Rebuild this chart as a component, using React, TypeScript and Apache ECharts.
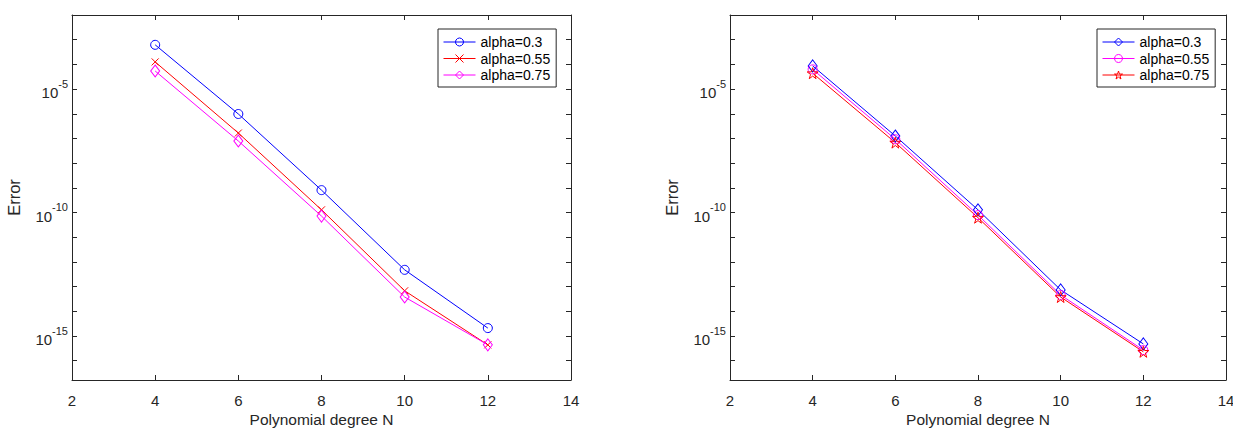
import React, { useEffect, useRef } from "react";
import * as echarts from "echarts";

const degrees = [4, 6, 8, 10, 12];
const legendNames = ["alpha=0.3", "alpha=0.55", "alpha=0.75"];

// left panel
const leftA03 = [6.2e-4, 9.8e-7, 8.1e-10, 4.8e-13, 2.1e-15];
const leftA055 = [1.26e-4, 1.66e-7, 1.29e-10, 6.8e-14, 4.4e-16];
const leftA075 = [5.4e-5, 7.9e-8, 7.2e-11, 3.8e-14, 4.4e-16];

// right panel
const rightA03 = [8.7e-5, 1.26e-7, 1.29e-10, 7.4e-14, 4.8e-16];
const rightA055 = [6.3e-5, 9.3e-8, 7.9e-11, 4.6e-14, 2.7e-16];
const rightA075 = [4.4e-5, 6.8e-8, 6.2e-11, 3.8e-14, 2.3e-16];

// axes
const xMin = 2;
const xMax = 14;
const xStep = 2;
const yMax = 1e-2;
const yMin = 1.66e-17;
const yTickValues = [1e-16, 1e-15, 1e-14, 1e-13, 1e-12, 1e-11, 1e-10, 1e-9, 1e-8, 1e-7, 1e-6, 1e-5, 1e-4, 1e-3];
const yLabelValues = [1e-15, 1e-10, 1e-5];

const FONT = "'Liberation Sans', Arial, Helvetica, sans-serif";
const AX = "#262626";
const BLUE = "#0000ff";
const RED = "#ff0000";
const MAGENTA = "#ff00ff";

const CROSS = "path://M0,0L10,10M10,0L0,10";
const STAR =
  "path://M50,0L61.23,34.55L97.55,34.55L68.17,55.9L79.39,90.45L50,69.1L20.61,90.45L31.83,55.9L2.45,34.55L38.77,34.55Z";

function mkSeries(name: string, vals: number[], color: string, symbol: string, size: any) {
  return {
    name,
    type: "line",
    xAxisIndex: 0,
    yAxisIndex: 0,
    data: degrees.map((d, i) => [d, vals[i]]),
    symbol,
    symbolSize: size,
    showSymbol: true,
    color,
    lineStyle: { color, width: 1 },
    itemStyle: { color: "rgba(255,255,255,0)", borderColor: color, borderWidth: 1 },
    emphasis: { disabled: true },
  };
}

function yLabel(v: number) {
  const e = Math.round(Math.log10(v));
  return "{b|10}{s|" + e + "}";
}

function makeOption(grid: any, legendPos: any, series: any[]) {
  const xCommon = {
    type: "value",
    min: xMin,
    max: xMax,
    interval: xStep,
    axisLine: { show: true, onZero: false, lineStyle: { color: AX, width: 1 } },
    axisTick: { show: true, inside: true, length: 5, lineStyle: { color: AX } },
    splitLine: { show: false },
  };
  const yCommon = {
    type: "log",
    logBase: 10,
    min: yMin,
    max: yMax,
    axisLine: { show: true, onZero: false, lineStyle: { color: AX, width: 1 } },
    axisTick: { show: true, inside: true, length: 5, customValues: yTickValues, lineStyle: { color: AX } },
    splitLine: { show: false },
  };
  return {
    animation: false,
    backgroundColor: "#fff",
    textStyle: { fontFamily: FONT },
    grid: { ...grid, show: false, containLabel: false, outerBoundsMode: "none" },
    legend: {
      orient: "vertical",
      ...legendPos,
      itemWidth: 32,
      itemHeight: 10,
      itemGap: 2.5,
      padding: [6, 6, 5, 5],
      borderColor: AX,
      borderWidth: 1,
      backgroundColor: "#fff",
      selectedMode: false,
      lineStyle: { width: 1 },
      itemStyle: { color: "rgba(255,255,255,0)", borderWidth: 1 },
      textStyle: { fontSize: 14, color: "#000", fontFamily: FONT },
      data: legendNames,
    },
    xAxis: [
      {
        ...xCommon,
        position: "bottom",
        name: "Polynomial degree N",
        nameLocation: "middle",
        nameGap: 31,
        nameMoveOverlap: false,
        nameTextStyle: { fontSize: 15.5, color: AX, fontFamily: FONT },
        axisLabel: { show: true, margin: 13, fontSize: 15, color: AX, fontFamily: FONT },
      },
      {
        ...xCommon,
        position: "top",
        axisLabel: { show: false },
      },
    ],
    yAxis: [
      {
        ...yCommon,
        position: "left",
        name: "Error",
        nameLocation: "middle",
        nameGap: 50,
        nameMoveOverlap: false,
        nameTextStyle: { fontSize: 16.5, color: AX, fontFamily: FONT },
        axisLabel: {
          show: true,
          margin: 4,
          customValues: yLabelValues,
          formatter: yLabel,
          color: AX,
          rich: {
            b: { fontSize: 15, color: AX, fontFamily: FONT, verticalAlign: "bottom", lineHeight: 22 },
            s: { fontSize: 11, color: AX, fontFamily: FONT, verticalAlign: "top", lineHeight: 22 },
          },
        },
      },
      {
        ...yCommon,
        position: "right",
        axisLabel: { show: false },
      },
    ],
    series,
  };
}

function Panel(props: { style: any; option: any }) {
  const ref = useRef<HTMLDivElement>(null);
  useEffect(() => {
    if (!ref.current) return;
    const chart = echarts.init(ref.current, undefined, { renderer: "svg" });
    chart.setOption(props.option);
    return () => chart.dispose();
  }, []);
  return <div ref={ref} style={props.style} />;
}

export default function App() {
  const leftOption = makeOption(
    { left: 72, right: 45, top: 15, bottom: 48 },
    { left: 438, top: 29 },
    [
      mkSeries(legendNames[0], leftA03, BLUE, "circle", 9),
      mkSeries(legendNames[1], leftA055, RED, CROSS, 7),
      mkSeries(legendNames[2], leftA075, MAGENTA, "diamond", [9, 12]),
    ]
  );
  const rightOption = makeOption(
    { left: 114, right: 7, top: 15, bottom: 48 },
    { left: 481, top: 29 },
    [
      mkSeries(legendNames[0], rightA03, BLUE, "diamond", [9, 12]),
      mkSeries(legendNames[1], rightA055, MAGENTA, "circle", 9),
      mkSeries(legendNames[2], rightA075, RED, STAR, 11),
    ]
  );
  return (
    <div style={{ position: "absolute", left: 0, top: 0, width: 1233, height: 428, background: "#fff", overflow: "hidden" }}>
      <Panel style={{ position: "absolute", left: 0, top: 0, width: 616, height: 428 }} option={leftOption} />
      <Panel style={{ position: "absolute", left: 616, top: 0, width: 617, height: 428 }} option={rightOption} />
    </div>
  );
}
